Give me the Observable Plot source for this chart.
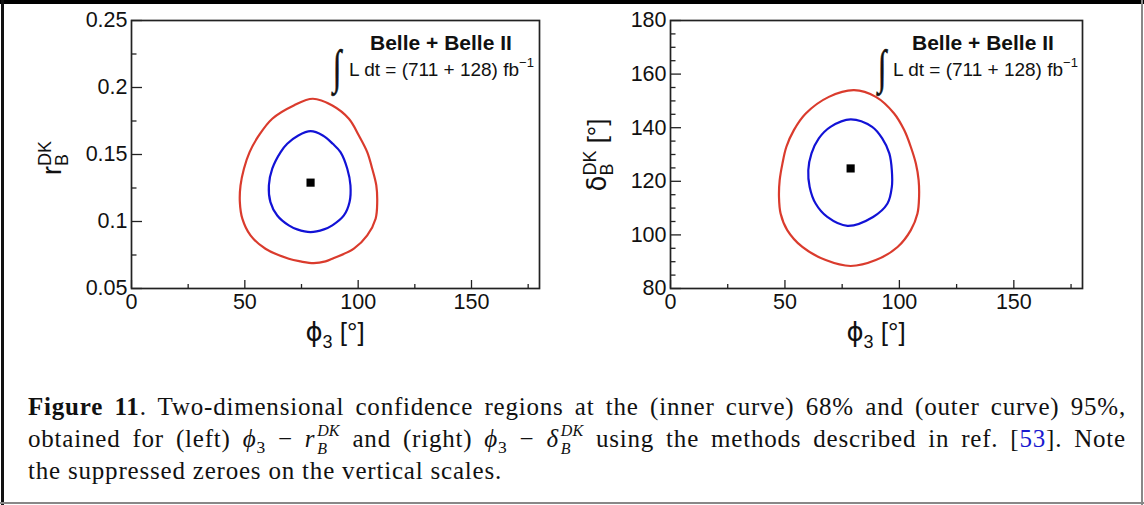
<!DOCTYPE html>
<html><head><meta charset="utf-8">
<script src="https://cdn.jsdelivr.net/npm/d3@7"></script>
<script src="https://cdn.jsdelivr.net/npm/@observablehq/plot@0.6"></script>
<style>
html,body{margin:0;padding:0;background:#fff;}
#page{position:relative;width:1144px;height:505px;overflow:hidden;background:#fff;}
#left{position:absolute;left:0;top:0;}
#right{position:absolute;left:570px;top:0;}
.bt{position:absolute;left:0;top:0;width:1144px;height:4px;background:#000;}
.bl{position:absolute;left:1px;top:0;width:3px;height:505px;background:#111;}
.bb{position:absolute;left:0;top:502px;width:1144px;height:2px;background:#888;}
.br{position:absolute;left:1141px;top:0;width:2px;height:505px;background:#888;}
#caption{position:absolute;left:28px;top:391px;width:1098px;font-family:"Liberation Serif","DejaVu Serif",serif;font-size:25px;letter-spacing:0.8px;line-height:32px;color:#111;}
#caption .ln{text-align:justify;text-align-last:justify;}
#caption .last{text-align:left;text-align-last:left;}
#caption sub{font-size:0.7em;line-height:0;}
#caption .ss{display:inline-block;position:relative;width:1.45em;height:1em;font-size:16px;line-height:1;font-style:italic;margin-left:2px;vertical-align:baseline;letter-spacing:0;}
#caption .ss .sp{position:absolute;left:0;top:-8.4px;}
#caption .ss .sb{position:absolute;left:0;top:9.6px;}
#caption .ref{color:#1a1ad0;}
</style>
</head><body>
<div id="page">
  <div id="left"></div>
  <div id="right"></div>
  <div id="caption">
    <div class="ln"><b>Figure 11</b>. Two-dimensional confidence regions at the (inner curve) 68% and (outer curve) 95%,</div>
    <div class="ln">obtained for (left) <i>ϕ</i><sub>3</sub> − <i>r</i><span class="ss"><span class="sp">DK</span><span class="sb">B</span></span> and (right) <i>ϕ</i><sub>3</sub> − <i>δ</i><span class="ss"><span class="sp">DK</span><span class="sb">B</span></span> using the methods described in ref. [<span class="ref">53</span>]. Note</div>
    <div class="ln last">the suppressed zeroes on the vertical scales.</div>
  </div>
  <div class="bt"></div><div class="bl"></div><div class="bb"></div><div class="br"></div>
</div>
<script>
// ---------- data ----------
const phiMajor = [0, 50, 100, 150];
const phiMinor = [25, 75, 125, 175];
const rMajor = [0.05, 0.1, 0.15, 0.2, 0.25];
const rMinor = [0.075, 0.125, 0.175, 0.225];
const deltaMajor = [80, 100, 120, 140, 160, 180];
const deltaMinor = [85, 90, 95, 105, 110, 115, 125, 130, 135, 145, 150, 155, 165, 170, 175];

// left panel: phi3 vs r_B^DK  (95% outer, 68% inner)
const rOuter95 = [
  [80.0,0.1916],[88.6,0.1866],[95.9,0.1767],[100.3,0.1642],[104.0,0.1518],[106.2,0.1394],
  [108.0,0.1269],[108.4,0.1145],[107.7,0.1021],[104.0,0.0896],[98.1,0.0797],[88.6,0.0722],
  [85.6,0.0702],[80.4,0.0689],[74.6,0.0702],[69.4,0.0722],[59.1,0.0797],[52.5,0.0896],
  [48.9,0.1021],[47.8,0.1145],[48.1,0.1269],[49.6,0.1394],[52.1,0.1518],[56.2,0.1642],
  [62.1,0.1767],[71.6,0.1866]
];
const rInner68 = [
  [79.0,0.1674],[84.4,0.1642],[88.8,0.1580],[92.2,0.1518],[95.2,0.1394],[96.6,0.1269],
  [96.2,0.1145],[93.7,0.1045],[88.6,0.0971],[84.9,0.0941],[79.0,0.0921],[73.1,0.0941],
  [69.4,0.0971],[64.3,0.1045],[61.3,0.1145],[60.6,0.1269],[62.1,0.1394],[65.8,0.1518],
  [68.7,0.1580],[73.6,0.1642]
];
const rBest = [[79.0,0.129]];

// right panel: phi3 vs delta_B^DK
const dOuter95 = [
  [80.2,154.0],[89.7,151.5],[97.7,145.3],[102.1,139.1],[105.0,132.8],[107.2,126.6],
  [108.4,120.4],[108.6,114.2],[107.9,108.0],[105.0,101.8],[99.2,95.5],[89.7,90.6],
  [78.7,88.4],[67.8,90.6],[57.6,95.5],[51.0,101.8],[48.1,108.0],[47.4,114.2],
  [47.7,120.4],[48.9,126.6],[50.6,132.8],[53.9,139.1],[59.1,145.3],[69.2,151.5]
];
const dInner68 = [
  [78.7,143.1],[88.1,140.3],[92.5,136.0],[95.6,130.4],[96.7,124.1],[96.7,117.9],
  [94.8,111.7],[88.5,106.7],[77.3,103.4],[68.5,106.7],[63.4,111.7],[60.8,117.9],
  [60.2,124.1],[61.6,130.4],[64.8,136.0],[69.9,140.3]
];
const dBest = [[78.7,124.8]];

const annoTitle = "Belle + Belle II";
const annoLumi = "L dt = (711 + 128) fb";
const annoLumiSup = "−1";

// ---------- drawing ----------
const FONT = "'Liberation Sans', Arial, Helvetica, sans-serif";
const RED = "#da3b2d", BLUE = "#1212d6", AX = "#222";
const TICKFONT = 21.5;

function panel({outer, inner, best, yDomain, yMajor, yMinor, yFmt, width, marginLeft, marginRight}) {
  const H = 360, mt = 20, mb = 72;
  const fw = width - marginLeft - marginRight, fh = H - mt - mb;
  const svg = Plot.plot({
    width, height: H, marginLeft, marginRight, marginTop: mt, marginBottom: mb,
    style: {fontFamily: FONT, fontSize: TICKFONT + "px", background: "transparent", overflow: "visible", color: "#111"},
    x: {domain: [0, 180]},
    y: {domain: yDomain},
    marks: [
      Plot.line(outer, {x: d => d[0], y: d => d[1], curve: "catmull-rom-closed", stroke: RED, strokeWidth: 2.2}),
      Plot.line(inner, {x: d => d[0], y: d => d[1], curve: "catmull-rom-closed", stroke: BLUE, strokeWidth: 2.2}),
      Plot.dot(best, {x: d => d[0], y: d => d[1], symbol: "square", r: 4.6, fill: "#000", stroke: null}),
      Plot.tickX(phiMajor, {x: d => d, stroke: AX, strokeWidth: 1.3, insetTop: fh - 8}),
      Plot.tickX(phiMinor, {x: d => d, stroke: AX, strokeWidth: 1.3, insetTop: fh - 4}),
      Plot.tickY(yMajor, {y: d => d, stroke: AX, strokeWidth: 1.3, insetRight: fw - 11}),
      Plot.tickY(yMinor, {y: d => d, stroke: AX, strokeWidth: 1.3, insetRight: fw - 5.5}),
      Plot.frame({stroke: AX, strokeWidth: 1.7}),
      Plot.axisX({ticks: phiMajor, tickSize: 0, tickPadding: 5, fontSize: TICKFONT, label: null, tickFormat: d => String(d)}),
      Plot.axisY({ticks: yMajor, tickSize: 0, tickPadding: 4, fontSize: TICKFONT, label: null, tickFormat: yFmt})
    ]
  });
  d3.select(svg).selectAll('g[aria-label$="tick label"]').attr("font-size", TICKFONT);
  return svg;
}

const leftSvg = panel({outer: rOuter95, inner: rInner68, best: rBest, yDomain: [0.05, 0.25],
  yMajor: rMajor, yMinor: rMinor, yFmt: d => String(+d.toFixed(3)), width: 570, marginLeft: 131, marginRight: 31});
const rightSvg = panel({outer: dOuter95, inner: dInner68, best: dBest, yDomain: [80, 180],
  yMajor: deltaMajor, yMinor: deltaMinor, yFmt: d => String(d), width: 574, marginLeft: 100, marginRight: 62});
document.getElementById("left").appendChild(leftSvg);
document.getElementById("right").appendChild(rightSvg);

function addText(svg, x, y, parts, opts = {}) {
  const s = d3.select(svg);
  let g = s.append("g").attr("transform", `translate(${x},${y})` + (opts.rotate ? ` rotate(${opts.rotate})` : "") + (opts.scale ? ` scale(${opts.scale})` : ""));
  const t = g.append("text").attr("font-family", opts.family || FONT).attr("font-size", opts.size || 20)
    .attr("fill", "#111").attr("text-anchor", opts.anchor || "start");
  if (opts.weight) t.attr("font-weight", opts.weight);
  if (opts.stroke) t.attr("stroke", "#111").attr("stroke-width", opts.stroke);
  for (const p of parts) {
    const ts = t.append("tspan").text(p.t);
    if (p.size) ts.attr("font-size", p.size);
    if (p.dy) ts.attr("dy", p.dy);
    if (p.back) { const w = t.select(`tspan.${p.back}`).node().getComputedTextLength(); ts.attr("dx", -w); }
    if (p.cls) ts.attr("class", p.cls);
    if (p.family) ts.attr("font-family", p.family);
  }
  return t;
}

function annotate(svg, xBold, xInt, xL) {
  addText(svg, xBold, 50, [{t: annoTitle}], {size: 21, weight: "bold"});
  addText(svg, xInt, 83, [{t: "∫"}], {size: 34, family: "'Liberation Serif', serif", scale: "0.9,1.4", stroke: 0.5});
  addText(svg, xL, 76, [{t: annoLumi}, {t: annoLumiSup, size: 13, dy: -9}], {size: 19});
}
annotate(leftSvg, 370, 333, 349);
annotate(rightSvg, 342, 308, 323);

// axis titles
function xTitle(svg, cx) {
  addText(svg, cx, 341, [{t: "ϕ", family: "'DejaVu Sans', sans-serif"}, {t: "3", size: 18, dy: 7}, {t: " [°]", dy: -7}], {size: 26, anchor: "middle"});
}
xTitle(leftSvg, 335);
xTitle(rightSvg, 306);

addText(leftSvg, 61, 158, [{t: "r"}, {t: "B", size: 18, dy: 7, cls: "sb"}, {t: "DK", size: 18, dy: -17, back: "sb"}],
  {size: 27, anchor: "middle", rotate: -90});
addText(rightSvg, 36, 155, [{t: "δ", family: "'DejaVu Sans', sans-serif"}, {t: "B", size: 18, dy: 7, cls: "sb"}, {t: "DK", size: 18, dy: -17, back: "sb"}, {t: " [°]", dy: 10}],
  {size: 26, anchor: "middle", rotate: -90});
</script>
</body></html>
